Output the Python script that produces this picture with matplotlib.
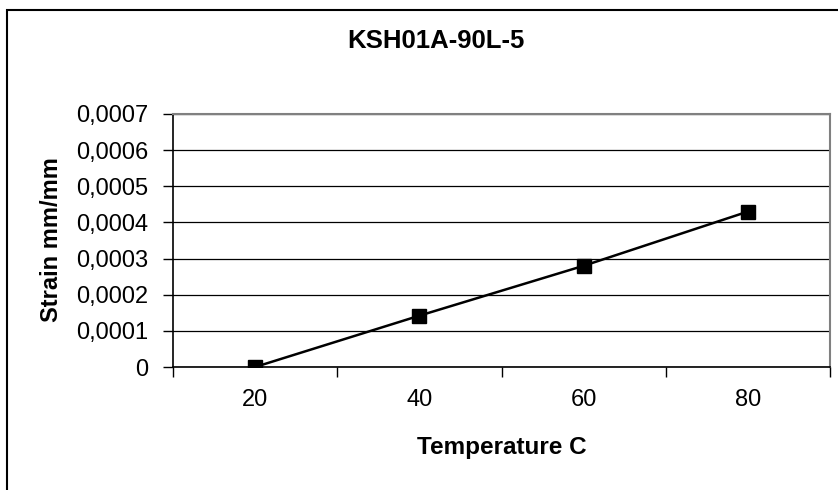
import matplotlib.pyplot as plt
from matplotlib.patches import Rectangle

# data
temperatures = ["20", "40", "60", "80"]
strain = [0.0, 0.000142, 0.00028, 0.00043]
y_ticks = [0.0, 0.0001, 0.0002, 0.0003, 0.0004, 0.0005, 0.0006, 0.0007]
y_tick_labels = ["0", "0,0001", "0,0002", "0,0003", "0,0004", "0,0005", "0,0006", "0,0007"]

title = "KSH01A-90L-5"
x_label = "Temperature C"
y_label = "Strain mm/mm"


def main():
    plt.rcParams["font.family"] = ["Liberation Sans", "DejaVu Sans"]

    fig = plt.figure(figsize=(8.38, 4.90), dpi=100)
    ax = fig.add_axes([173 / 838, 1 - 367 / 490, 657 / 838, 253 / 490])

    x = list(range(len(temperatures)))
    ax.plot(x, strain, color="black", linewidth=1.8, marker="s", markersize=9.5,
            markerfacecolor="black", markeredgecolor="black", zorder=3)

    # category axis: labels centred in each category, ticks on the boundaries
    ax.set_xlim(-0.5, len(temperatures) - 0.5)
    ax.set_xticks(x)
    ax.set_xticklabels(temperatures)
    ax.set_xticks([i - 0.5 for i in range(len(temperatures) + 1)], minor=True)
    ax.tick_params(axis="x", which="major", length=0, pad=16, labelsize=17)
    ax.tick_params(axis="x", which="minor", length=7, width=1, color="black", direction="out")

    ax.set_ylim(0, 0.0007)
    ax.set_yticks(y_ticks)
    ax.set_yticklabels(y_tick_labels)
    ax.tick_params(axis="y", length=7, width=1, color="black", direction="out", pad=11, labelsize=17)

    ax.grid(axis="y", color="black", linewidth=0.9)
    ax.set_axisbelow(True)

    for side in ["left", "bottom"]:
        ax.spines[side].set_color("black")
        ax.spines[side].set_linewidth(1.2)
    for side in ["top", "right"]:
        ax.spines[side].set_color("#808080")
        ax.spines[side].set_linewidth(1.5)

    ax.set_xlabel(x_label, fontsize=17.5, fontweight="bold", va="baseline")
    ax.xaxis.set_label_coords(0.5, (367 - 454) / 253)
    ax.set_ylabel(y_label, fontsize=17, fontweight="bold", va="baseline")
    ax.yaxis.set_label_coords((58 - 173) / 657, 0.502)

    fig.text(436 / 838, 1 - 48 / 490, title, ha="center", va="baseline",
             fontsize=18.5, fontweight="bold")

    # outer chart border (right and bottom edges fall outside the image)
    fig.patches.append(Rectangle((7 / 838, -0.2), 1.2, 1.2 - 10 / 490, transform=fig.transFigure,
                                 fill=False, edgecolor="black", linewidth=1.5))

    fig.savefig("out.png", dpi=100)
    plt.close(fig)


if __name__ == "__main__":
    main()
